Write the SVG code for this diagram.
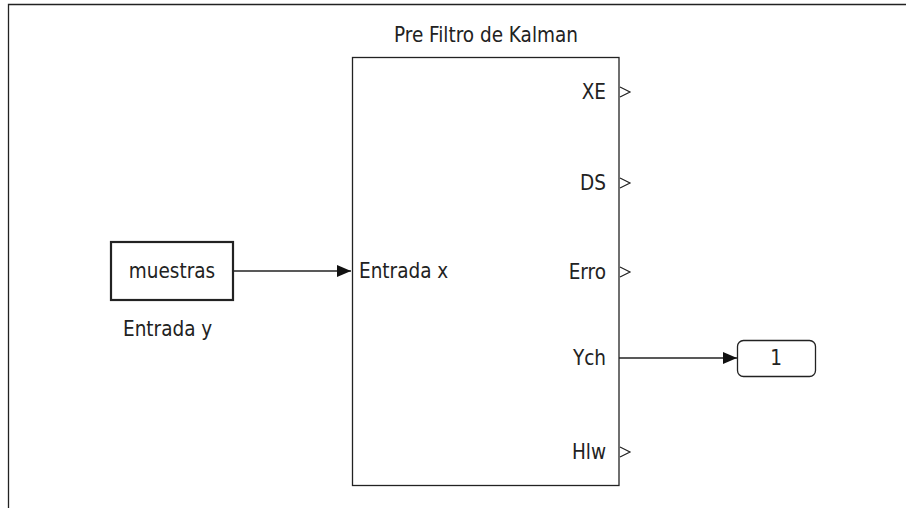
<svg xmlns="http://www.w3.org/2000/svg" width="906" height="508" viewBox="0 0 906 508">
<defs>
<style>
text{font-family:"DejaVu Sans Condensed","DejaVu Sans","Liberation Sans",sans-serif;font-size:20.5px;fill:#222}
.blk{fill:#fff;stroke:#222;stroke-width:1.3}
.ln{stroke:#222;stroke-width:1.3;fill:none}
.port{stroke:#222;stroke-width:1.2;fill:none}
</style>
<marker id="ah" markerWidth="14" markerHeight="12" refX="14" refY="6" orient="auto" markerUnits="userSpaceOnUse">
<path d="M0,0 L14,6 L0,12 Z" fill="#111"/>
</marker>
</defs>
<rect width="906" height="508" fill="#fff"/>
<g id="frame">
<path d="M8.5,508 V4.5 H906" class="ln" stroke-width="1.5"/>
</g>
<g id="kalman">
<text x="486" y="42" text-anchor="middle">Pre Filtro de Kalman</text>
<rect x="352.5" y="57.5" width="266.5" height="428" class="blk"/>
<text x="359" y="278">Entrada x</text>
<text x="606" y="99" text-anchor="end">XE</text>
<text x="606" y="190" text-anchor="end">DS</text>
<text x="606" y="279" text-anchor="end">Erro</text>
<text x="606" y="365" text-anchor="end">Ych</text>
<text x="606" y="459" text-anchor="end">Hlw</text>
<path class="port" d="M620,87 L630,92 L620,97 M620,178 L630,183 L620,188 M620,267 L630,272 L620,277 M620,447 L630,452 L620,457"/>
</g>
<g id="muestras">
<rect x="111" y="242" width="122" height="58" fill="#fff" stroke="#222" stroke-width="2.2"/>
<text x="172" y="278" text-anchor="middle">muestras</text>
<text x="123" y="336">Entrada y</text>
</g>
<g id="out1">
<rect x="737.5" y="340.5" width="78" height="36" rx="6" class="blk"/>
<text x="776" y="365" text-anchor="middle">1</text>
</g>
<g id="connectors">
<path class="ln" d="M233,271 H351" marker-end="url(#ah)"/>
<path class="ln" d="M619,358 H737" marker-end="url(#ah)"/>
</g>
</svg>
